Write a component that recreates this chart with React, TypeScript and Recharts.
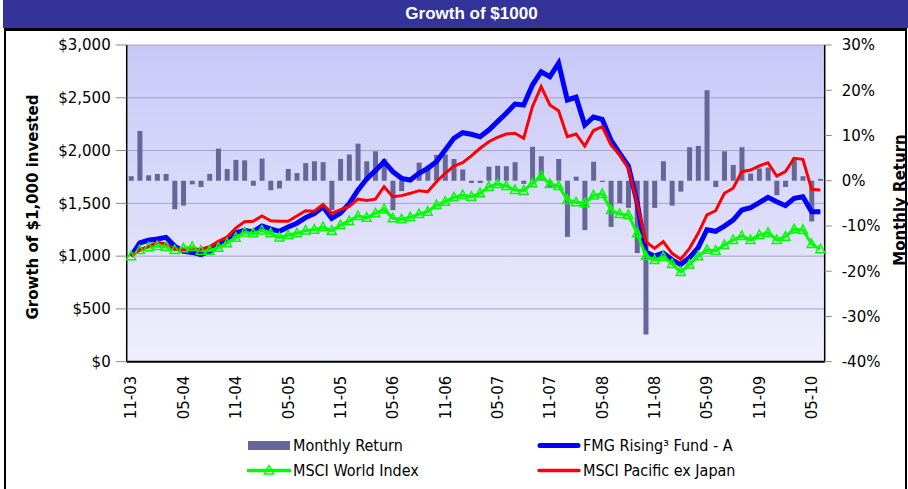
import {
  ComposedChart,
  Bar,
  Line,
  XAxis,
  YAxis,
  CartesianGrid,
} from 'recharts'

const months = [
  '11-03', '12-03',
  '01-04', '02-04', '03-04', '04-04', '05-04', '06-04', '07-04', '08-04', '09-04', '10-04', '11-04', '12-04',
  '01-05', '02-05', '03-05', '04-05', '05-05', '06-05', '07-05', '08-05', '09-05', '10-05', '11-05', '12-05',
  '01-06', '02-06', '03-06', '04-06', '05-06', '06-06', '07-06', '08-06', '09-06', '10-06', '11-06', '12-06',
  '01-07', '02-07', '03-07', '04-07', '05-07', '06-07', '07-07', '08-07', '09-07', '10-07', '11-07', '12-07',
  '01-08', '02-08', '03-08', '04-08', '05-08', '06-08', '07-08', '08-08', '09-08', '10-08', '11-08', '12-08',
  '01-09', '02-09', '03-09', '04-09', '05-09', '06-09', '07-09', '08-09', '09-09', '10-09', '11-09', '12-09',
  '01-10', '02-10', '03-10', '04-10', '05-10', '06-10',
]

// monthly return of the fund, %
const monthlyReturn = [
  1.0, 11.0, 1.2, 1.5, 1.5, -6.3, -5.5, -0.8, -1.4, 1.5,
  7.1, 2.6, 4.6, 4.5, -1.1, 4.9, -2.1, -1.7, 2.6, 1.7,
  3.9, 4.3, 4.1, -6.5, 4.8, 5.8, 8.2, 4.3, 6.5, 4.8,
  -6.5, -2.3, 0.1, 4.0, 3.3, 5.7, 5.8, 4.8, 2.5, -0.5,
  -0.5, 3.1, 3.3, 3.2, 4.1, -0.7, 7.5, 5.4, -1.5, 4.8,
  -12.4, 0.9, -10.9, 4.2, -0.3, -10.2, -5.0, -6.0, -16.0, -34.0,
  -6.0, 4.3, -5.5, -2.4, 7.4, 7.7, 20.0, -1.4, 6.5, 3.5,
  7.4, 1.6, 2.7, 2.9, -3.2, -1.4, 5.1, 1.0, -9.0, 0.4,
]

const fmgFund = [
  1000, 1125, 1150, 1163, 1178, 1095, 1045, 1035, 1015, 1045,
  1100, 1165, 1220, 1245, 1230, 1285, 1258, 1235, 1276, 1312,
  1365, 1403, 1468, 1358, 1408, 1497, 1625, 1730, 1810, 1895,
  1800, 1737, 1721, 1785, 1832, 1895, 2005, 2116, 2169, 2154,
  2131, 2195, 2274, 2353, 2441, 2432, 2621, 2747, 2700, 2827,
  2479, 2505, 2242, 2318, 2296, 2100, 1974, 1854, 1510, 1040,
  1000, 1030, 965, 920, 985, 1080, 1250, 1235, 1285, 1342,
  1437, 1459, 1506, 1557, 1516, 1478, 1548, 1563, 1421, 1421,
]

const msciWorld = [
  1000, 1058, 1084, 1096, 1089, 1058, 1074, 1089, 1052, 1052,
  1080, 1122, 1175, 1224, 1216, 1243, 1216, 1177, 1200, 1216,
  1243, 1251, 1275, 1240, 1295, 1333, 1380, 1364, 1406, 1444,
  1358, 1349, 1368, 1399, 1421, 1484, 1516, 1557, 1579, 1563,
  1595, 1658, 1683, 1664, 1627, 1620, 1690, 1759, 1683, 1664,
  1532, 1510, 1500, 1575, 1589, 1437, 1399, 1390, 1216, 1001,
  963, 995, 926, 850, 920, 1000, 1060, 1050, 1105, 1153,
  1191, 1153, 1200, 1222, 1153, 1184, 1254, 1248, 1115, 1065,
]

const msciPacific = [
  1000, 1060, 1092, 1128, 1118, 1066, 1058, 1058, 1066, 1089,
  1140, 1180, 1265, 1325, 1330, 1380, 1335, 1330, 1330, 1380,
  1430, 1425, 1490, 1405, 1440, 1470, 1540, 1528, 1540, 1658,
  1563, 1573, 1595, 1620, 1610, 1705, 1785, 1854, 1885, 1950,
  2022, 2084, 2126, 2157, 2164, 2116, 2416, 2605, 2432, 2378,
  2131, 2157, 2043, 2190, 2226, 2053, 1958, 1832, 1500, 1137,
  1074, 1137, 1027, 970, 1074, 1216, 1390, 1430, 1595, 1643,
  1800, 1816, 1854, 1885, 1759, 1800, 1927, 1917, 1633, 1627,
]

const leftTicks = [0, 500, 1000, 1500, 2000, 2500, 3000]
const rightTicks = [-40, -30, -20, -10, 0, 10, 20, 30]

const data = months.map((m, i) => ({
  month: m,
  ret: monthlyReturn[i],
  fmg: fmgFund[i],
  world: msciWorld[i],
  pacific: msciPacific[i],
}))

const tickFont = { fontFamily: 'DejaVu Sans, Verdana, sans-serif', fontSize: 15, fill: '#000' }
const legendFont = "'Liberation Sans Narrow', 'Arial Narrow', 'DejaVu Sans Condensed', 'Liberation Sans', sans-serif"

function MonthTick({ x, y, payload }: any) {
  return (
    <text
      x={x}
      y={y + 6}
      transform={`rotate(-90, ${x}, ${y + 6})`}
      textAnchor="end"
      dy="0.36em"
      {...tickFont}
    >
      {payload.value}
    </text>
  )
}

function Triangle({ cx, cy, index }: any) {
  return (
    <polygon
      key={`tri-${index}`}
      points={`${cx},${cy - 5} ${cx - 4.5},${cy + 3.5} ${cx + 4.5},${cy + 3.5}`}
      fill="none"
      stroke="#00ff00"
      strokeWidth={1.5}
    />
  )
}

function LegendItem({ left, top, label, kind }: any) {
  let swatch
  if (kind === 'bar') {
    swatch = <rect x={1} y={6} width={42} height={9} fill="#666699" />
  } else if (kind === 'blue') {
    swatch = <line x1={3} y1={10.5} x2={41} y2={10.5} stroke="#0000ff" strokeWidth={5} strokeLinecap="round" />
  } else if (kind === 'red') {
    swatch = <line x1={2} y1={10.5} x2={42} y2={10.5} stroke="#ff0000" strokeWidth={3.5} strokeLinecap="round" />
  } else {
    swatch = (
      <g>
        <line x1={1} y1={10.5} x2={43} y2={10.5} stroke="#00ff00" strokeWidth={3.5} strokeLinecap="round" />
        <polygon points="22,5.5 17.5,14 26.5,14" fill="none" stroke="#00ff00" strokeWidth={1.5} />
      </g>
    )
  }
  return (
    <div style={{ position: 'absolute', left, top, display: 'flex', alignItems: 'center', height: 21 }}>
      <svg width={44} height={21}>{swatch}</svg>
      <span style={{ fontFamily: legendFont, fontSize: 16, color: '#000', marginLeft: 2, whiteSpace: 'nowrap' }}>
        {label}
      </span>
    </div>
  )
}

export default function App() {
  return (
    <div style={{ position: 'absolute', left: 0, top: 0, width: 908, height: 489, overflow: 'hidden', background: '#fff' }}>
      <div
        style={{
          position: 'absolute',
          left: 3,
          top: 0,
          width: 905,
          height: 28,
          background: '#333399',
          color: '#fff',
          fontFamily: "'Liberation Sans', Arial, sans-serif",
          fontWeight: 'bold',
          fontSize: 17,
          lineHeight: '28px',
          textAlign: 'center',
        }}
      >
        <span style={{ position: 'relative', left: 16 }}>Growth of $1000</span>
      </div>
      <div
        style={{
          position: 'absolute',
          left: 4,
          top: 28,
          width: 903,
          height: 470,
          boxSizing: 'border-box',
          borderTop: '3px solid #000',
          borderLeft: '2px solid #000',
          borderRight: '2px solid #000',
        }}
      />
      <div style={{ position: 'absolute', left: 0, top: 0 }}>
        <ComposedChart
          width={908}
          height={489}
          data={data}
          margin={{ top: 45, right: 0, bottom: 0, left: 6.7 }}
        >
          <defs>
            <linearGradient id="plotBg" x1="0" y1="0" x2="0" y2="1">
              <stop offset="0%" stopColor="#c8c8f8" />
              <stop offset="100%" stopColor="#efeffc" />
            </linearGradient>
          </defs>
          <CartesianGrid
            yAxisId="left"
            vertical={false}
            stroke="#a4a4c8"
            fill="url(#plotBg)"
            fillOpacity={1}
          />
          <XAxis
            dataKey="month"
            interval={5}
            height={127.3}
            tick={<MonthTick />}
            tickLine={false}
            axisLine={{ stroke: '#000', strokeWidth: 2 }}
          />
          <YAxis
            yAxisId="left"
            width={120}
            domain={[0, 3000]}
            ticks={leftTicks}
            interval={0}
            tickFormatter={(v) => `$${Number(v).toLocaleString('en-US')}`}
            tick={tickFont}
            tickSize={11}
            tickMargin={5}
            tickLine={{ stroke: '#888' }}
            axisLine={{ stroke: '#000', strokeWidth: 1.5 }}
          />
          <YAxis
            yAxisId="right"
            orientation="right"
            width={83.3}
            domain={[-40, 30]}
            ticks={rightTicks}
            interval={0}
            tickFormatter={(v) => `${v}%`}
            tick={{ ...tickFont, textAnchor: 'start' }}
            tickSize={7}
            tickMargin={10}
            tickLine={{ stroke: '#888' }}
            axisLine={{ stroke: '#000', strokeWidth: 1.5 }}
          />
          <Bar
            yAxisId="right"
            dataKey="ret"
            fill="#666699"
            barSize={5}
            isAnimationActive={false}
          />
          <Line
            yAxisId="left"
            type="linear"
            dataKey="fmg"
            stroke="#0000ff"
            strokeWidth={5}
            dot={false}
            isAnimationActive={false}
          />
          <Line
            yAxisId="left"
            type="linear"
            dataKey="world"
            stroke="#00ff00"
            strokeWidth={3}
            dot={<Triangle />}
            isAnimationActive={false}
          />
          <Line
            yAxisId="left"
            type="linear"
            dataKey="pacific"
            stroke="#ff0000"
            strokeWidth={3}
            dot={false}
            isAnimationActive={false}
          />
        </ComposedChart>
      </div>
      <div
        style={{
          position: 'absolute',
          left: 33,
          top: 207,
          transform: 'translate(-50%, -50%) rotate(-90deg)',
          fontFamily: 'DejaVu Sans, Verdana, sans-serif',
          fontWeight: 'bold',
          fontSize: 15,
          whiteSpace: 'nowrap',
        }}
      >
        Growth of $1,000 invested
      </div>
      <div
        style={{
          position: 'absolute',
          left: 900,
          top: 200,
          transform: 'translate(-50%, -50%) rotate(-90deg)',
          fontFamily: 'DejaVu Sans, Verdana, sans-serif',
          fontWeight: 'bold',
          fontSize: 15,
          whiteSpace: 'nowrap',
        }}
      >
        Monthly Return
      </div>
      <LegendItem left={247} top={435} label="Monthly Return" kind="bar" />
      <LegendItem left={537} top={435} label="FMG Rising³ Fund - A" kind="blue" />
      <LegendItem left={247} top={460} label="MSCI World Index" kind="green" />
      <LegendItem left={537} top={460} label="MSCI Pacific ex Japan" kind="red" />
    </div>
  )
}
